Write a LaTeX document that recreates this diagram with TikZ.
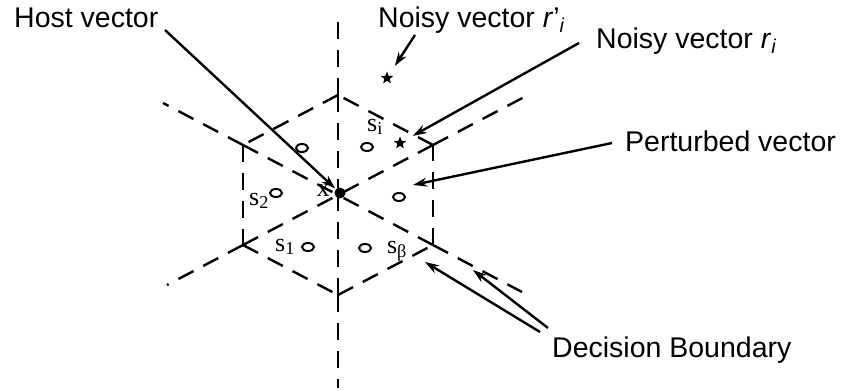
\documentclass[tikz,border=0pt]{standalone}
\usepackage{fontspec}
\setmainfont{Liberation Sans}
\newfontfamily\labfont{Liberation Serif}
\usetikzlibrary{arrows.meta,shapes.geometric}

\begin{document}
\begin{tikzpicture}[x=1pt, y=-1pt, >={Stealth[length=14pt,width=9pt]}, line width=2.4pt,
    bound/.style={dash pattern=on 17pt off 11pt},
    callout/.style={font=\fontsize{28.5}{32}\selectfont, inner sep=0pt, anchor=base west},
    sym/.style={font=\labfont\fontsize{26}{30}\selectfont, inner sep=0pt},
    hole/.style={ellipse, draw, minimum width=12pt, minimum height=8pt, inner sep=0pt, line width=2pt},
    noise/.style={star, star points=5, star point ratio=2.3, fill, minimum size=13pt, inner sep=0pt}]
    \useasboundingbox (0,0) rectangle (841,391);
    % hexagon cell and the boundaries through the centre
    \coordinate (O) at (338,195);
    \coordinate (T) at (338,95);
    \coordinate (UL) at (243,145);
    \coordinate (LL) at (243,245);
    \coordinate (B) at (338,295);
    \coordinate (LR) at (433,245);
    \coordinate (UR) at (433,145);
    \coordinate (Tx) at (338,22);
    \coordinate (Bx) at (338,388);
    \coordinate (ULx) at (163,103);
    \coordinate (LRx) at (522,292);
    \coordinate (LLx) at (167,285);
    \coordinate (URx) at (530,94);
    \foreach \a/\b in {T/UL,UL/LL,LL/B,B/LR,LR/UR,UR/T}
        \draw[bound] (\a) -- (\b);
    \foreach \v in {T,B,UL,LR,LL,UR} {
        \draw[bound] (\v) -- (O);
        \draw[bound] (\v) -- (\v x);
    }
    % code vectors
    \node[circle, fill, minimum size=11pt, inner sep=0pt] (host) at (340,193) {};
    \node[sym] (xlab) at (323,191) {x};
    \node[hole] (c1) at (302,148) {};
    \node[hole] (c2) at (367,147) {};
    \node[hole] (c3) at (399,197) {};
    \node[hole] (c4) at (365,248) {};
    \node[hole] (c5) at (308,247) {};
    \node[hole] (c6) at (276,193) {};
    \node[sym] (si) at (375,127) {s\textsubscript{i}};
    \node[sym] (s2) at (259,201) {s\textsubscript{2}};
    \node[sym] (s1) at (285,247) {s\textsubscript{1}};
    \node[sym] (sb) at (397,251) {s\textsubscript{β}};
    \node[noise] (starB) at (387,78) {};
    \node[noise] (starA) at (400,143) {};
    % labels
    \node[callout] (hostT) at (13,27) {Host vector};
    \node[callout] (noisyB) at (377,27) {Noisy vector \textit{r}'\textsubscript{\textit{i}}};
    \node[callout] (noisyA) at (595,48) {Noisy vector \textit{r}\textsubscript{\textit{i}}};
    \node[callout] (pert) at (624,151) {Perturbed vector};
    \node[callout] (dec) at (551,357) {Decision Boundary};
    \coordinate (hA) at (165,30);
    \coordinate (nB) at (415,35);
    \coordinate (nA) at (579,43);
    \coordinate (pA) at (612,143);
    \coordinate (pTip) at (413,185);
    \coordinate (dA) at (540,332);
    \coordinate (dB) at (548,328);
    \coordinate (dTipA) at (425,262);
    \coordinate (dTipB) at (473,270);
    \draw[->] (hA) -- (host);
    \draw[->, shorten >=10pt] (nB) -- (starB);
    \draw[->, shorten >=8pt] (nA) -- (starA);
    \draw[->] (pA) -- (pTip);
    \draw[->] (dA) -- (dTipA);
    \draw[->] (dB) -- (dTipB);
\end{tikzpicture}
\end{document}
